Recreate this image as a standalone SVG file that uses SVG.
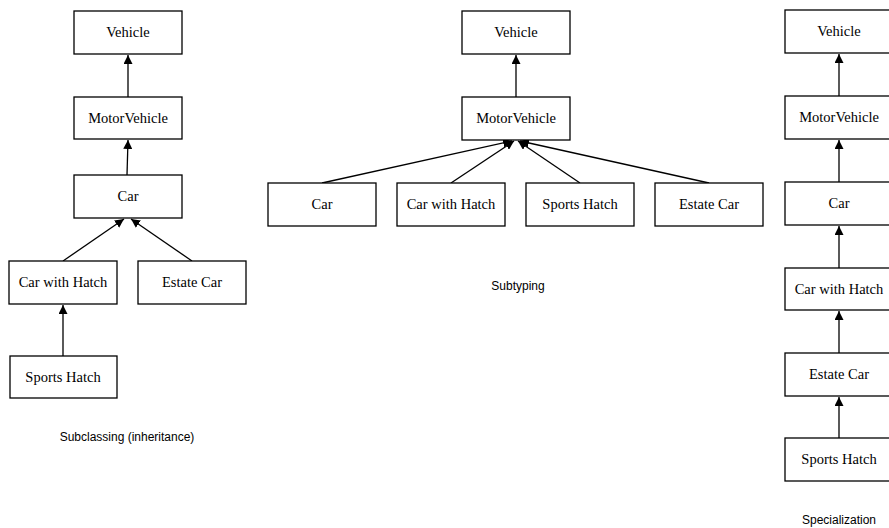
<svg xmlns="http://www.w3.org/2000/svg" width="889" height="528" viewBox="0 0 889 528">
<style>
.box{fill:#fff;stroke:#000;stroke-width:1.3}
.lbl{font-family:"Liberation Serif","Times New Roman",serif;font-size:14.5px;text-anchor:middle;fill:#000}
.cap{font-family:"Liberation Sans",Arial,sans-serif;font-size:12px;text-anchor:middle;fill:#000}
.edge{stroke:#000;stroke-width:1.3;fill:none;marker-end:url(#arr)}
</style>
<defs>
<marker id="arr" viewBox="0 0 10 10" refX="10" refY="5" markerWidth="9" markerHeight="9" markerUnits="userSpaceOnUse" orient="auto">
<path d="M0,0 L10,5 L0,10 z" fill="#000"/>
</marker>
</defs>
<rect width="889" height="528" fill="#fff"/>
<g id="connectors">
<line class="edge" x1="128" y1="97" x2="128" y2="55"/>
<line class="edge" x1="127" y1="175" x2="128" y2="140"/>
<line class="edge" x1="63" y1="261" x2="124" y2="219"/>
<line class="edge" x1="192" y1="261" x2="131" y2="219"/>
<line class="edge" x1="63" y1="356" x2="63" y2="305"/>
<line class="edge" x1="516" y1="97" x2="516" y2="55"/>
<line class="edge" x1="322" y1="183" x2="512" y2="141"/>
<line class="edge" x1="451" y1="183" x2="514" y2="141"/>
<line class="edge" x1="580" y1="183" x2="518" y2="141"/>
<line class="edge" x1="709" y1="183" x2="520" y2="141"/>
<line class="edge" x1="839" y1="96" x2="839" y2="54"/>
<line class="edge" x1="839" y1="182" x2="839" y2="140"/>
<line class="edge" x1="839" y1="268" x2="839" y2="226"/>
<line class="edge" x1="839" y1="353" x2="839" y2="311"/>
<line class="edge" x1="839" y1="438" x2="839" y2="397"/>
</g>
<g id="l-vehicle"><rect class="box" x="74" y="11" width="108" height="43"/><text class="lbl" x="128" y="37">Vehicle</text></g>
<g id="l-motorvehicle"><rect class="box" x="74" y="97" width="108" height="42"/><text class="lbl" x="128" y="123">MotorVehicle</text></g>
<g id="l-car"><rect class="box" x="74" y="175" width="108" height="43"/><text class="lbl" x="128" y="201">Car</text></g>
<g id="l-carwithhatch"><rect class="box" x="9" y="261" width="108" height="43"/><text class="lbl" x="63" y="287">Car with Hatch</text></g>
<g id="l-estatecar"><rect class="box" x="138" y="261" width="108" height="43"/><text class="lbl" x="192" y="287">Estate Car</text></g>
<g id="l-sportshatch"><rect class="box" x="10" y="356" width="107" height="42"/><text class="lbl" x="63" y="382">Sports Hatch</text></g>
<text class="cap" x="127" y="441">Subclassing (inheritance)</text>
<g id="m-vehicle"><rect class="box" x="462" y="11" width="108" height="43"/><text class="lbl" x="516" y="37">Vehicle</text></g>
<g id="m-motorvehicle"><rect class="box" x="462" y="97" width="108" height="43"/><text class="lbl" x="516" y="123">MotorVehicle</text></g>
<g id="m-car"><rect class="box" x="268" y="183" width="108" height="43"/><text class="lbl" x="322" y="209">Car</text></g>
<g id="m-carwithhatch"><rect class="box" x="397" y="183" width="108" height="43"/><text class="lbl" x="451" y="209">Car with Hatch</text></g>
<g id="m-sportshatch"><rect class="box" x="526" y="183" width="108" height="43"/><text class="lbl" x="580" y="209">Sports Hatch</text></g>
<g id="m-estatecar"><rect class="box" x="655" y="183" width="108" height="43"/><text class="lbl" x="709" y="209">Estate Car</text></g>
<text class="cap" x="518" y="290">Subtyping</text>
<g id="r-vehicle"><rect class="box" x="785" y="10" width="108" height="43"/><text class="lbl" x="839" y="36">Vehicle</text></g>
<g id="r-motorvehicle"><rect class="box" x="785" y="96" width="108" height="43"/><text class="lbl" x="839" y="122">MotorVehicle</text></g>
<g id="r-car"><rect class="box" x="785" y="182" width="108" height="43"/><text class="lbl" x="839" y="208">Car</text></g>
<g id="r-carwithhatch"><rect class="box" x="785" y="268" width="108" height="42"/><text class="lbl" x="839" y="294">Car with Hatch</text></g>
<g id="r-estatecar"><rect class="box" x="785" y="353" width="108" height="43"/><text class="lbl" x="839" y="379">Estate Car</text></g>
<g id="r-sportshatch"><rect class="box" x="785" y="438" width="108" height="43"/><text class="lbl" x="839" y="464">Sports Hatch</text></g>
<text class="cap" x="839" y="524">Specialization</text>
</svg>
